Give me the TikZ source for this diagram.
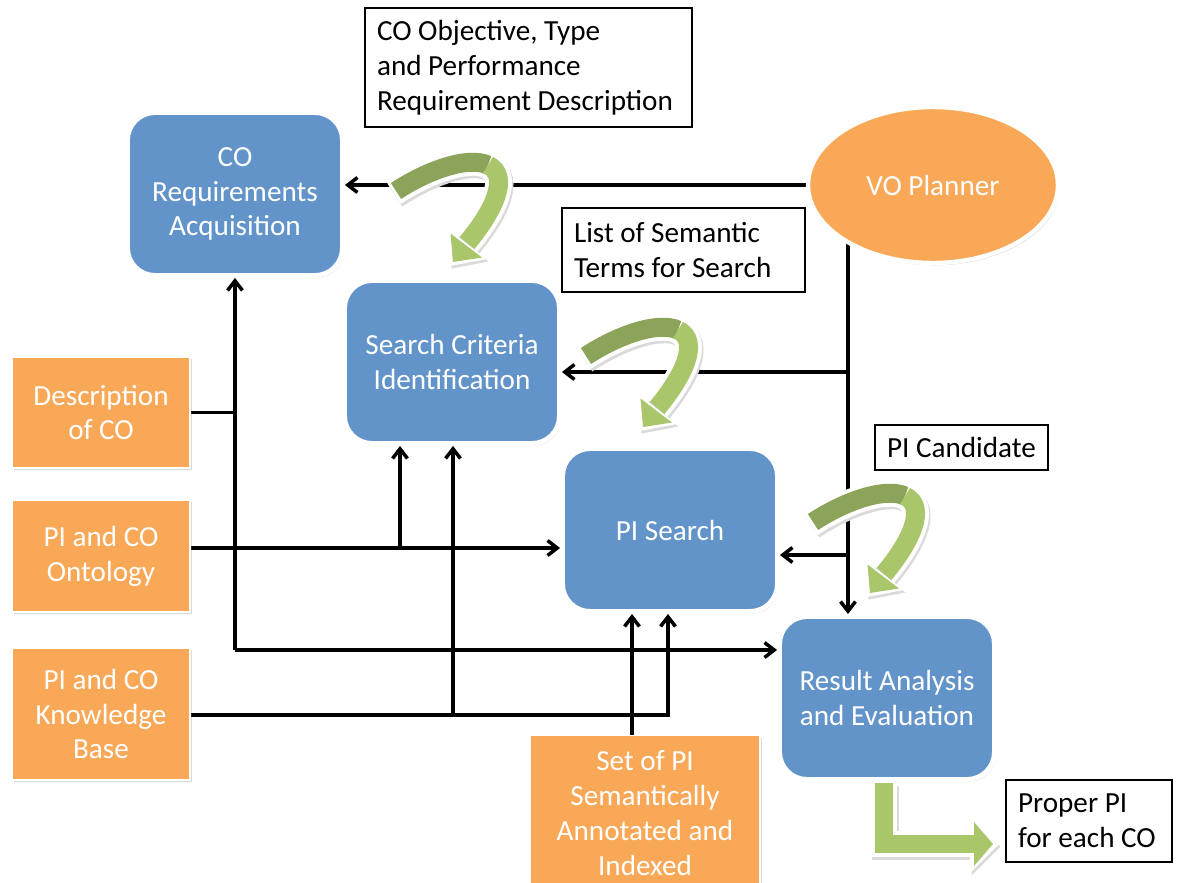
\documentclass[tikz,border=0pt]{standalone}
\usepackage{fontspec}
\setmainfont{Carlito}
\usetikzlibrary{arrows.meta,shapes.geometric,shadows,calc}
\pgfdeclarelayer{bg}
\pgfsetlayers{bg,main}

\definecolor{boxblue}{RGB}{98,148,201}
\definecolor{boxorange}{RGB}{249,168,88}
\definecolor{greendark}{RGB}{140,164,90}
\definecolor{greenlight}{RGB}{170,198,106}
\definecolor{shadowgray}{RGB}{218,218,218}

\tikzset{
  every node/.style={font=\fontsize{16.6}{19.8}\selectfont},
  softshadow/.style={drop shadow={shadow xshift=0.9pt, shadow yshift=-1.3pt, opacity=0.3}},
  process/.style={rounded corners=0.55cm, fill=boxblue, draw=white, line width=2.8pt,
    text=white, align=center, minimum width=4.3cm, minimum height=3.26cm, softshadow},
  source/.style={fill=boxorange, draw=white, line width=1pt, text=white, align=center,
    minimum width=3.56cm, softshadow},
  note/.style={draw=black, line width=1.2pt, fill=white, align=flush left, inner xsep=0.24cm, inner ysep=0pt},
  conn/.style={line width=2pt, -{Straight Barb[length=5.5pt,width=8.5pt]}},
  link/.style={line width=2pt},
  % curved ribbon arrow, tip at the pic origin
  bendarrow/.pic={
    \begin{scope}[shift={(1.5,2.5)}]
      \draw[shadowgray, line width=15.3pt, shorten <=-1.7pt]
        (-57,-71) .. controls (-25,-92) and (15,-106) .. (35,-97)
        .. controls (58,-86) and (40,-50) .. (14,-19);
      \fill[shadowgray] (-3,4) -- (34,-3) -- (-6,-33) -- cycle;
    \end{scope}
    \draw[white, line width=15.3pt, shorten <=-1.7pt]
      (-57,-71) .. controls (-25,-92) and (15,-106) .. (35,-97)
      .. controls (58,-86) and (40,-50) .. (14,-19);
    \fill[white] (-3,4) -- (34,-3) -- (-6,-33) -- cycle;
    \draw[greendark, line width=10.8pt]
      (-57,-71) .. controls (-25,-92) and (15,-106) .. (35,-97);
    \draw[greenlight, line width=10.8pt]
      (35,-97) .. controls (58,-86) and (40,-50) .. (14,-19);
    \fill[greenlight] (0,0) -- (29,-4.5) -- (-2.5,-28.5) -- cycle;
  }
}

\begin{document}
\begin{tikzpicture}[x=0.02cm, y=-0.02cm]
  \useasboundingbox (0,0) rectangle (1181,883);

  % process steps
  \node[process] (req)    at (235,194) {CO\\Requirements\\Acquisition};
  \node[process] (crit)   at (452,362) {Search Criteria\\Identification};
  \node[process] (search) at (670,530) {PI Search};
  \node[process] (result) at (887,698) {Result Analysis\\and Evaluation};

  % planner
  \node[ellipse, fill=boxorange, draw=white, line width=2.5pt, text=white,
        minimum width=5cm, minimum height=3.12cm, softshadow] (vo) at (933,185) {VO Planner};

  % inputs
  \node[source, minimum height=2.22cm] (desc) at (101,412.5) {Description\\of CO};
  \node[source, minimum height=2.24cm] (onto) at (101,556) {PI and CO\\Ontology};
  \node[source, minimum height=2.64cm] (kb)   at (101,714) {PI and CO\\Knowledge\\Base};
  \node[source, minimum width=4.6cm, minimum height=3.1cm] (set) at (645,813)
        {Set of PI\\Semantically\\Annotated and\\Indexed};

  % output labels
  \node[note, text width=6.06cm, minimum height=2.38cm] (cobj)   at (528.5,67.5)
        {CO Objective, Type\\and Performance\\Requirement Description};
  \node[note, text width=4.38cm, minimum height=1.68cm] (terms)  at (683.5,250)
        {List of Semantic\\Terms for Search};
  \node[note, text width=2.98cm, minimum height=0.9cm]  (cand)   at (961.5,447.5)
        {PI Candidate};
  \node[note, text width=2.84cm, minimum height=1.64cm] (proper) at (1089,821)
        {Proper PI\\for each CO};

  % junction points of the connectors
  \coordinate (vbus) at (848,185);
  \coordinate (b1)   at (848,372);
  \coordinate (b2)   at (848,555);
  \coordinate (lc)   at (235,650);
  \coordinate (ob)   at (400,548);
  \coordinate (kb1)  at (453,715);
  \coordinate (kb2)  at (668,715);
  \coordinate (s1)   at (632,735);

  \begin{pgfonlayer}{bg}
    \draw[conn] (vo.center) -- (vo.center -| req.east);
    \draw[conn] (vbus) -- (vbus |- result.north);
    \draw[conn] (b1) -- (b1 -| crit.east);
    \draw[conn] (b2) -- (b2 -| search.east);
    \draw[conn] (desc.east) -| (req.south);
    \draw[link] (desc.east -| req.south) -- (lc);
    \draw[conn] (lc) -- (lc -| result.west);
    \draw[conn] (onto.east |- ob) -- (ob -| search.west);
    \draw[conn] (ob) -- (ob |- crit.south);
    \draw[conn] (kb.east |- kb2) -- (kb2) -- (kb2 |- search.south);
    \draw[conn] (kb1) -- (kb1 |- crit.south);
    \draw[conn] (s1) -- (s1 |- search.south);
  \end{pgfonlayer}

  % curved ribbon arrows
  \pic at (453,262) {bendarrow};
  \pic at (643,427) {bendarrow};
  \pic at (870,593) {bendarrow};

  % bent output arrow
  \begin{scope}[shift={(1.5,2.5)}]
    \draw[shadowgray, line width=15pt] (884,783) -- (884,844) -- (971,844);
    \fill[shadowgray] (999,844) -- (970,815) -- (970,873) -- cycle;
  \end{scope}
  \draw[white, line width=15pt] (884,783) -- (884,844) -- (971,844);
  \fill[white] (999,844) -- (970,815) -- (970,873) -- cycle;
  \draw[greenlight, line width=10.5pt] (884,783) -- (884,844) -- (975,844);
  \fill[greenlight] (993,844) -- (974,822) -- (974,866) -- cycle;
\end{tikzpicture}
\end{document}
